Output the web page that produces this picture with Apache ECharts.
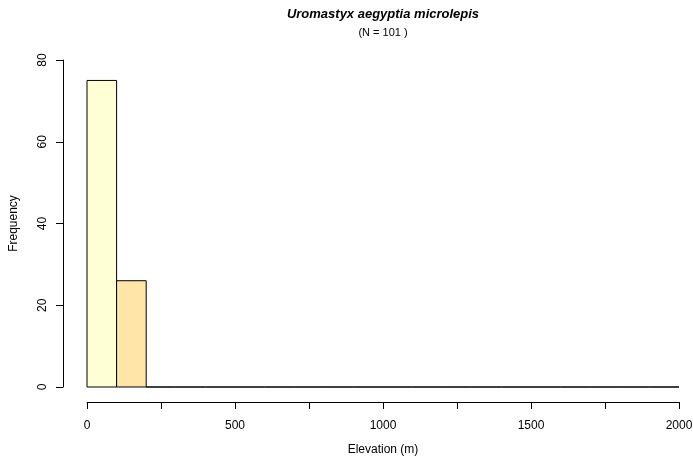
<!DOCTYPE html>
<html>
<head>
<meta charset="utf-8">
<script src="https://cdn.jsdelivr.net/npm/echarts@6/dist/echarts.min.js"></script>
<style>html,body{margin:0;padding:0;background:#fff}#c{width:693px;height:462px}</style>
</head>
<body>
<div id="c"></div>
<script>
const binStarts = [0,100,200,300,400,500,600,700,800,900,1000,1100,1200,1300,1400,1500,1600,1700,1800,1900];
const binWidth = 100;
const counts = [75,26,0,0,0,0,0,0,0,0,0,0,0,0,0,0,0,0,0,0];
const barColors = ['#FFFFD6','#FFE5A8'];
const xTicks = [0,250,500,750,1000,1250,1500,1750,2000];
const xLabels = [0,500,1000,1500,2000];
const yTicks = [0,20,40,60,80];
const titleText = 'Uromastyx aegyptia microlepis';
const subText = '(N = 101 )';

const FONT = 'Liberation Sans, Arial, Helvetica, sans-serif';
const chart = echarts.init(document.getElementById('c'), null, {renderer:'canvas'});
const data = binStarts.map((s,i)=>[s, s+binWidth, counts[i]]);

const hidden = {show:false};
const xRange = {min:0,max:2000,interval:250};
const yRange = {min:0,max:80,interval:20};
const lineBlack = {show:true,onZero:false,lineStyle:{color:'#000',width:1}};
const tickBlack = {show:true,length:7,lineStyle:{color:'#000',width:1}};

chart.setOption({
  animation:false,
  backgroundColor:'#fff',
  grid:[
    {left:87,right:14,top:60,bottom:75,outerBoundsMode:'none',containLabel:false}, // plot
    {left:87,right:14,top:60,bottom:60,outerBoundsMode:'none',containLabel:false}, // x axis
    {left:63,right:14,top:60,bottom:75,outerBoundsMode:'none',containLabel:false}  // y axis
  ],
  graphic:[
    {type:'text',x:383,y:8,style:{text:titleText,font:'italic bold 13px '+FONT,fill:'#000',textAlign:'center'}},
    {type:'text',x:383,y:27,style:{text:subText,font:'11px '+FONT,fill:'#000',textAlign:'center'}}
  ],
  xAxis:[
    Object.assign({type:'value',gridIndex:0,axisLine:hidden,axisTick:hidden,axisLabel:hidden,splitLine:hidden},xRange),
    Object.assign({type:'value',gridIndex:1,
      name:'Elevation (m)',nameLocation:'middle',nameGap:42,
      nameTextStyle:{fontFamily:FONT,fontSize:12,color:'#000'},
      axisLine:lineBlack,axisTick:tickBlack,
      axisLabel:{margin:18,fontFamily:FONT,fontSize:12,color:'#000',
        formatter:v=>xLabels.indexOf(v)>=0?String(v):''},
      splitLine:hidden},xRange),
    Object.assign({type:'value',gridIndex:2,axisLine:hidden,axisTick:hidden,axisLabel:hidden,splitLine:hidden},xRange)
  ],
  yAxis:[
    Object.assign({type:'value',gridIndex:0,axisLine:hidden,axisTick:hidden,axisLabel:hidden,splitLine:hidden},yRange),
    Object.assign({type:'value',gridIndex:1,axisLine:hidden,axisTick:hidden,axisLabel:hidden,splitLine:hidden},yRange),
    Object.assign({type:'value',gridIndex:2,
      name:'Frequency',nameLocation:'middle',nameGap:43,nameRotate:90,
      nameTextStyle:{fontFamily:FONT,fontSize:12,color:'#000'},
      axisLine:lineBlack,axisTick:tickBlack,
      axisLabel:{margin:14,rotate:90,fontFamily:FONT,fontSize:12,color:'#000',
        formatter:v=>yTicks.indexOf(v)>=0?String(v):''},
      splitLine:hidden},yRange)
  ],
  series:[{
    type:'custom',
    xAxisIndex:0,yAxisIndex:0,
    data:data,
    encode:{x:[0,1],y:2},
    renderItem:function(params,api){
      const s=api.value(0), e=api.value(1), c=api.value(2);
      const p0=api.coord([s,c]), p1=api.coord([e,0]);
      return {type:'rect',
        shape:{x:p0[0],y:p0[1],width:p1[0]-p0[0],height:p1[1]-p0[1]},
        style:{fill:barColors[params.dataIndex]||'#FFFFFF',stroke:'#000',lineWidth:1}};
    }
  }]
});
</script>
</body>
</html>
